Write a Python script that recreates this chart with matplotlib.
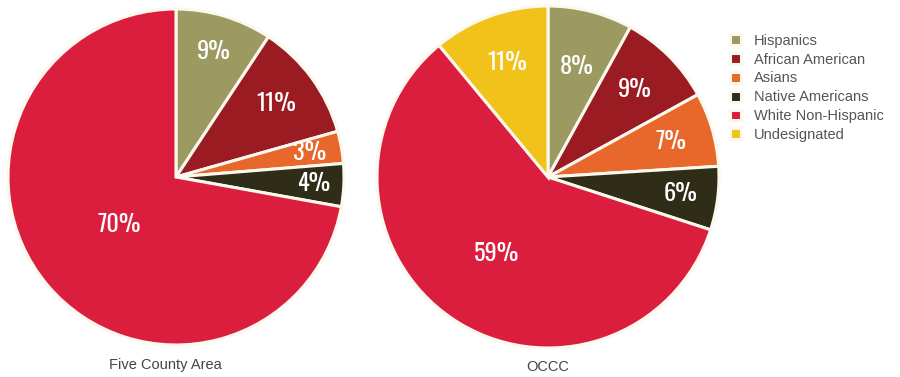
import matplotlib
matplotlib.use("Agg")
import matplotlib.pyplot as plt
import numpy as np

groups = ["Hispanics", "African American", "Asians", "Native Americans",
          "White Non-Hispanic", "Undesignated"]
colors = ["#9c9a60", "#9b1b22", "#e8672a", "#2f2c17", "#dc1e3e", "#f1c21a"]

county_values = [9, 11, 3, 4, 70]
occc_values = [8, 9, 7, 6, 59, 11]

# radial position of each percentage label (fraction of the radius)
county_label_r = [0.78, 0.74, 0.81, 0.82, 0.44]
occc_label_r = [0.67, 0.72, 0.75, 0.78, 0.54, 0.71]

label_font = ["Oswald", "Archivo Narrow", "Liberation Sans Narrow", "DejaVu Sans"]
text_font = ["Liberation Sans", "DejaVu Sans"]

fig = plt.figure(figsize=(9, 3.77), dpi=100)


def draw_pie(rect, values, label_r):
    ax = fig.add_axes(rect)
    wedges, _ = ax.pie(values, colors=colors[:len(values)], startangle=90,
                       counterclock=False, radius=1,
                       wedgeprops=dict(edgecolor="#fbf8ee", linewidth=2.2))
    for w, v, r in zip(wedges, values, label_r):
        ang = np.deg2rad((w.theta1 + w.theta2) / 2)
        ax.text(r * np.cos(ang), r * np.sin(ang), f"{v}%",
                ha="center", va="center", color="white", fontsize=17.5,
                fontweight="semibold", family=label_font)
    ax.set_xlim(-1, 1)
    ax.set_ylim(-1, 1)
    ax.set_aspect("equal")
    ax.axis("off")
    return wedges


draw_pie([8 / 900, 32 / 377, 336 / 900, 336 / 377], county_values, county_label_r)
handles = draw_pie([377 / 900, 29 / 377, 342 / 900, 342 / 377], occc_values, occc_label_r)

fig.text(165 / 900, 1 - 365 / 377, "Five County Area", ha="center", va="center",
         fontsize=10.5, color="#444444", family=text_font)
fig.text(548 / 900, 1 - 367 / 377, "OCCC", ha="center", va="center",
         fontsize=10.5, color="#444444", family=text_font)

fig.legend(handles, groups, loc="upper left", bbox_to_anchor=(724 / 900, 1 - 28 / 377),
           frameon=False, handlelength=0.75, handleheight=0.75,
           handletextpad=0.9, labelspacing=0.33, borderaxespad=0,
           labelcolor="#555555", prop=dict(family=text_font, size=10.5))

fig.savefig("out.png", dpi=100, facecolor="white")
